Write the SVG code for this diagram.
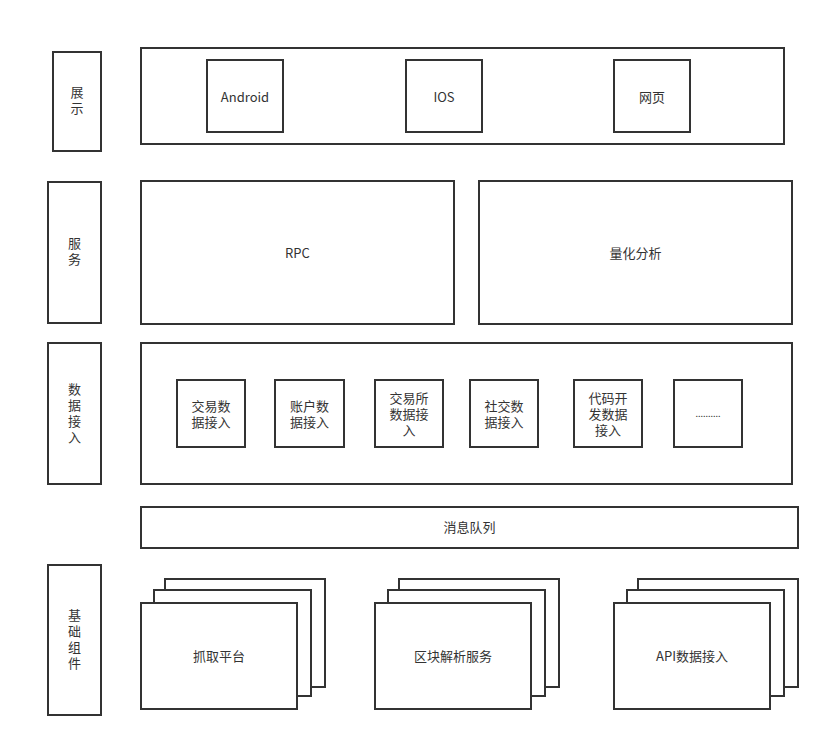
<svg xmlns="http://www.w3.org/2000/svg" width="830" height="747" viewBox="0 0 830 747">
<style>
rect{fill:#fff;stroke:#333;stroke-width:2}
text{font-family:"Noto Sans CJK SC","Noto Sans",sans-serif;font-size:13px;fill:#333;text-anchor:middle;dominant-baseline:central}
.v{writing-mode:vertical-rl;letter-spacing:3px}
</style>
<rect x="0" y="0" width="830" height="747" style="stroke:none"/>
<g id="label-display"><rect x="53" y="52" width="48" height="99"/><text class="v" x="77" y="102">展示</text></g>
<g id="label-service"><rect x="48" y="182" width="53" height="141"/><text class="v" x="74.5" y="253">服务</text></g>
<g id="label-data"><rect x="48" y="343" width="53" height="141"/><text class="v" x="74.5" y="415">数据接入</text></g>
<g id="label-base"><rect x="48" y="565" width="53" height="150"/><text class="v" x="74.5" y="641">基础组件</text></g>

<g id="display"><rect x="141" y="48" width="643" height="96"/></g>
<g id="android"><rect x="207" y="60" width="76" height="72"/><text x="245" y="96">Android</text></g>
<g id="ios"><rect x="406" y="60" width="76" height="72"/><text x="444" y="96">IOS</text></g>
<g id="web"><rect x="614" y="60" width="76" height="72"/><text x="652" y="96">网页</text></g>

<g id="rpc"><rect x="141" y="181" width="313" height="143"/><text x="297.5" y="252">RPC</text></g>
<g id="quant"><rect x="479" y="181" width="313" height="143"/><text x="635.5" y="252">量化分析</text></g>

<g id="data"><rect x="141" y="343" width="651" height="141"/></g>
<g id="d1"><rect x="177" y="380" width="68" height="67"/><text x="211" y="405">交易数<tspan x="211" dy="16">据接入</tspan></text></g>
<g id="d2"><rect x="275" y="380" width="69" height="67"/><text x="309.5" y="405">账户数<tspan x="309.5" dy="16">据接入</tspan></text></g>
<g id="d3"><rect x="375" y="380" width="68" height="67"/><text x="409" y="397">交易所<tspan x="409" dy="16">数据接</tspan><tspan x="409" dy="16">入</tspan></text></g>
<g id="d4"><rect x="470" y="380" width="68" height="67"/><text x="504" y="405">社交数<tspan x="504" dy="16">据接入</tspan></text></g>
<g id="d5"><rect x="574" y="380" width="68" height="67"/><text x="608" y="397">代码开<tspan x="608" dy="16">发数据</tspan><tspan x="608" dy="16">接入</tspan></text></g>
<g id="d6"><rect x="674" y="380" width="68" height="67"/><text x="708" y="413" style="font-size:9px">..........</text></g>

<g id="mq"><rect x="141" y="507" width="657" height="41"/><text x="469.5" y="526">消息队列</text></g>

<g id="crawl"><rect x="165" y="579" width="160" height="108"/><rect x="154" y="590" width="157" height="106"/><rect x="141" y="603" width="156" height="106"/><text x="219" y="655">抓取平台</text></g>
<g id="chain"><rect x="399" y="579" width="160" height="108"/><rect x="388" y="590" width="157" height="106"/><rect x="375" y="603" width="156" height="106"/><text x="453" y="655">区块解析服务</text></g>
<g id="api"><rect x="638" y="579" width="160" height="108"/><rect x="627" y="590" width="157" height="106"/><rect x="614" y="603" width="156" height="106"/><text x="692" y="655">API数据接入</text></g>
<g id="connectors"/>
</svg>
